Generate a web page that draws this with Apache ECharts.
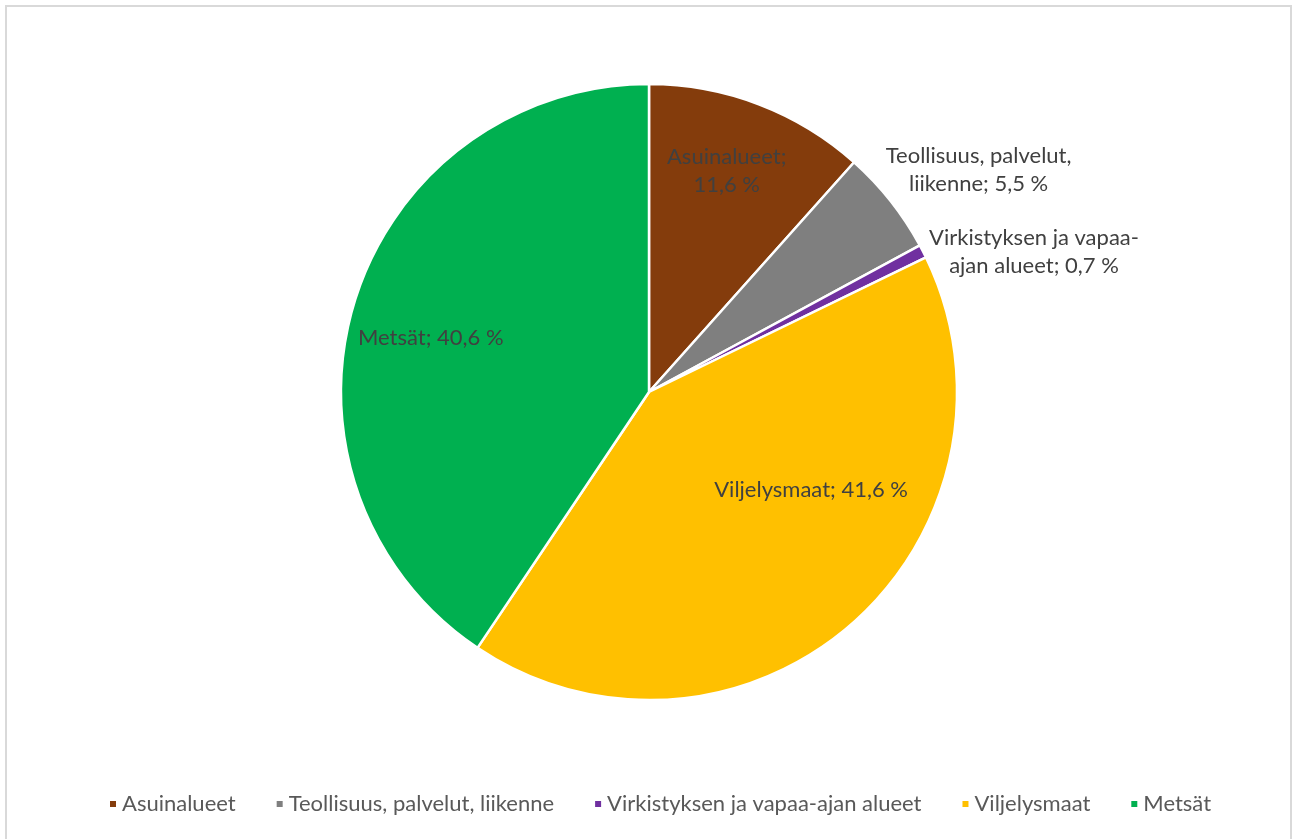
<!DOCTYPE html>
<html>
<head>
<meta charset="utf-8">
<script src="https://cdn.jsdelivr.net/npm/echarts@6/dist/echarts.min.js"></script>
<style>
  html, body { margin: 0; padding: 0; background: #fff; }
  #frame { position: absolute; left: 5px; top: 5px; width: 1283px; height: 860px; border: 2px solid #d9d9d9; }
  #main { position: absolute; left: 0; top: 0; width: 1292px; height: 839px; }
</style>
</head>
<body>
<div id="frame"></div>
<div id="main"></div>
<script>
  // maankäyttö, osuus %
  const names = ['Asuinalueet', 'Teollisuus, palvelut, liikenne', 'Virkistyksen ja vapaa-ajan alueet', 'Viljelysmaat', 'Metsät'];
  const shares = [11.6, 5.5, 0.7, 41.6, 40.6];
  const colors = ['#843c0c', '#7f7f7f', '#7030a0', '#ffc000', '#00b050'];
  // rivinvaihdon kohta merkkeinä (0 = ei rivinvaihtoa)
  const breakAt = [12, 21, 22, 0, 0];

  // tekstien sijoittelu kuten Excelissä: etäisyys säteestä ja kulman siirto asteina
  const labelReach = [0.76, 1.29, 1.33, 0.615, 0.73];
  const labelTurn = [-1.5, 4.4, 7.2, -17.8, -3];

  const cx = 649, cy = 392, R = 308;
  const total = shares.reduce((a, b) => a + b, 0);

  function labelText(i) {
    const t = names[i] + '; ' + shares[i].toFixed(1).replace('.', ',') + ' %';
    const b = breakAt[i];
    if (!b) return t;
    return t.slice(0, b).trimEnd() + '\n' + t.slice(b).trimStart();
  }

  let myChart = echarts.init(document.getElementById('main'));
  myChart.setOption({
    color: colors,
    animation: false,
    textStyle: { fontFamily: 'Lato' },
    legend: {
      bottom: 19,
      left: 103,
      icon: 'rect',
      itemWidth: 8,
      itemHeight: 8,
      itemGap: 39,
      textStyle: { fontSize: 22, color: '#595959', fontFamily: 'Lato' },
      data: names
    },
    series: [
      {
        type: 'pie',
        center: [cx, cy],
        radius: R,
        startAngle: 90,
        clockwise: true,
        itemStyle: { borderColor: '#fff', borderWidth: 2.5 },
        label: {
          show: true,
          position: 'inside',
          align: 'center',
          color: '#404040',
          fontSize: 22,
          lineHeight: 28,
          fontFamily: 'Lato',
          formatter: p => labelText(p.dataIndex)
        },
        labelLine: { show: false },
        labelLayout: function (params) {
          const i = params.dataIndex;
          let before = 0;
          for (let k = 0; k < i; k++) before += shares[k];
          const a = ((before + shares[i] / 2) / total * 360 + labelTurn[i]) * Math.PI / 180;
          return {
            x: cx + labelReach[i] * R * Math.sin(a),
            y: cy - labelReach[i] * R * Math.cos(a),
            align: 'center',
            verticalAlign: 'middle'
          };
        },
        emphasis: { disabled: true },
        data: names.map((n, i) => ({ name: n, value: shares[i] }))
      }
    ]
  });
</script>
</body>
</html>
